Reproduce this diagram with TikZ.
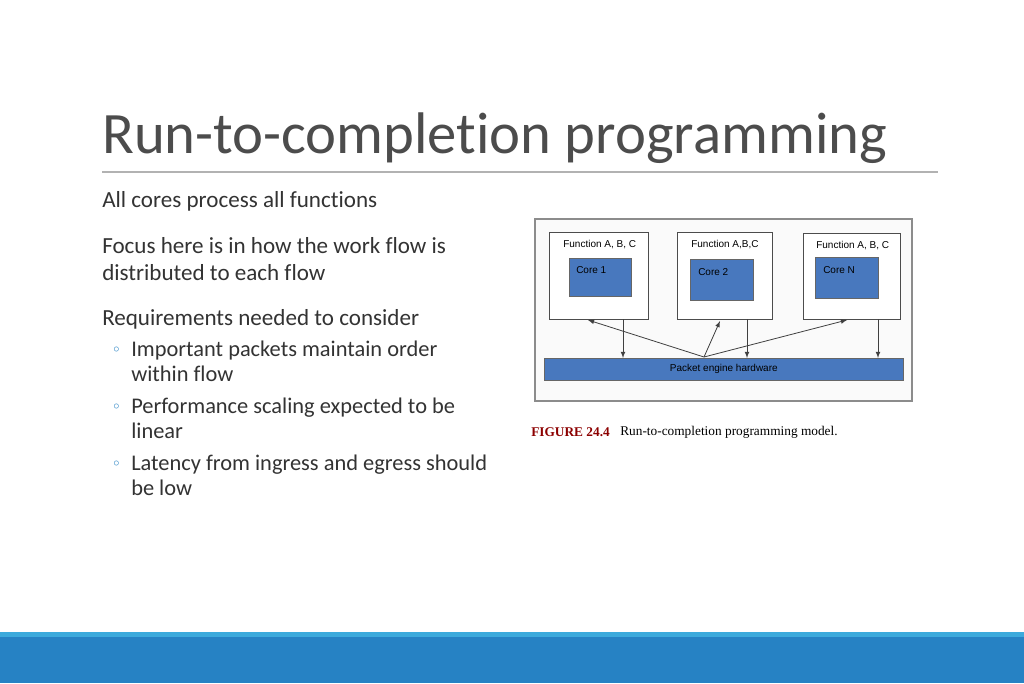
\documentclass[tikz,border=0pt]{standalone}
\usepackage{fontspec}
\setmainfont[Ligatures={NoCommon}]{Carlito}
\newfontfamily\arialf{Liberation Sans}
\newfontfamily\serf{Liberation Serif}
\begin{document}
\begin{tikzpicture}[x=0.75pt,y=-0.75pt,
  fbox/.style={draw=black!70,fill=white,line width=0.6pt},
  arr/.style={-latex,line width=0.6pt,black!75},
  lbl/.style={font=\arialf\fontsize{7.5}{8}\selectfont,anchor=west,inner sep=0pt},
  body/.style={anchor=west,font=\fontsize{17.3}{20}\selectfont,text=black!80,align=left,inner sep=0pt}]
\definecolor{cblue}{RGB}{72,120,190}
\definecolor{band}{RGB}{38,130,196}
\definecolor{bandl}{RGB}{60,170,220}
\useasboundingbox (0,0) rectangle (1024,683);
\fill[white] (0,0) rectangle (1024,683);
\fill[band] (0,632) rectangle (1024,683);
\fill[bandl] (0,632) rectangle (1024,637);
\node[anchor=base west,inner sep=0pt,text=black!70,font=\fontsize{44}{50}\selectfont] (title) at (102,153) {Run-to-completion programming};
\draw[black!30,line width=0.8pt] (102,172) -- (938,172);
\node[body] (t1) at (102,201) {All cores process all functions};
\node[body] (t2) at (102,259) {Focus here is in how the work flow is\\[0pt]distributed to each flow};
\node[body] (t3) at (102,319) {Requirements needed to consider};
\foreach \y/\n/\txt in {361/b1/{Important packets maintain order\\[0pt]within flow},418/b2/{Performance scaling expected to be\\[0pt]linear},475/b3/{Latency from ingress and egress should\\[0pt]be low}}{
  \node[body,font=\fontsize{16.8}{18.5}\selectfont] (\n) at (131,\y) {\txt};
  \node[anchor=west,inner sep=0pt,text=band,font=\fontsize{9}{9}\selectfont] at (113,\y-11) {$\circ$};
}
% figure
\draw[black!45,fill=black!2,line width=0.8pt] (535,219) rectangle (912,401);
\node[fbox,anchor=north west,minimum width=74.25pt,minimum height=65.25pt] (f1) at (549,232) {};
\node[fbox,anchor=north west,minimum width=71.25pt,minimum height=65.25pt] (f2) at (677,232) {};
\node[fbox,anchor=north west,minimum width=72.75pt,minimum height=64.5pt] (f3) at (803,233) {};
\fill[cblue,draw=black!60] (569,258) rectangle (631,296);
\fill[cblue,draw=black!60] (690,259) rectangle (753,300);
\fill[cblue,draw=black!60] (815,257) rectangle (878,298);
\node[lbl] at (563,245) {Function A, B, C};
\node[lbl] at (691,245) {Function A,B,C};
\node[lbl] at (816,246) {Function A, B, C};
\node[lbl] (c1) at (576,270) {Core 1};
\node[lbl] (c2) at (698,272) {Core 2};
\node[lbl] (cn) at (823,270) {Core N};
\node[draw=black!60,fill=cblue,anchor=north west,minimum width=269.25pt,minimum height=16.5pt,inner sep=0pt] (pe) at (544,358) {};
\node[font=\arialf\fontsize{7.5}{8}\selectfont] at (pe.center) {Packet engine hardware};
\coordinate (hub) at (704,357);
\draw[arr] (623,319) -- (623,358);
\draw[arr] (747,319) -- (747,358);
\draw[arr] (878,319) -- (878,358);
\draw[arr] (hub) -- (588,320);
\draw[arr] (hub) -- (720,321);
\draw[arr] (hub) -- (847,320);
\node[anchor=west,inner sep=0pt,font=\serf\fontsize{10}{10}\selectfont\bfseries,text=red!55!black] (fig) at (531,432) {FIGURE 24.4};
\node[anchor=west,inner sep=0pt,font=\serf\fontsize{10}{10}\selectfont] (cap) at (620,432) {Run-to-completion programming model.};
\end{tikzpicture}
\end{document}
